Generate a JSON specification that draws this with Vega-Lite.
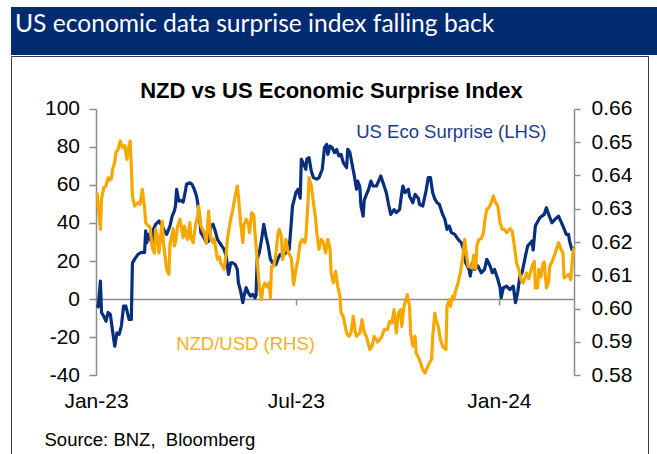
{
  "$schema": "https://vega.github.io/schema/vega-lite/v6.json",
  "background": "white",
  "padding": {"left": 10, "top": 7, "right": 0, "bottom": 0},
  "spacing": 0,
  "config": {
    "font": "Liberation Sans",
    "view": {"stroke": null},
    "axis": {"grid": false, "labelFont": "Liberation Sans", "titleFont": "Liberation Sans", "labelColor": "#000000"}
  },
  "datasets": {
    "eco": [
      {"date": "2023-01-02", "eco": -2.8}, {"date": "2023-01-03", "eco": -4}, {"date": "2023-01-05", "eco": 9.5}, {"date": "2023-01-06", "eco": -7},
      {"date": "2023-01-08", "eco": -9}, {"date": "2023-01-10", "eco": -11.6}, {"date": "2023-01-12", "eco": -7}, {"date": "2023-01-14", "eco": -8},
      {"date": "2023-01-17", "eco": -21}, {"date": "2023-01-18", "eco": -24.7}, {"date": "2023-01-20", "eco": -17.7}, {"date": "2023-01-22", "eco": -18.5},
      {"date": "2023-01-24", "eco": -14}, {"date": "2023-01-26", "eco": -3.7}, {"date": "2023-01-28", "eco": -3.7}, {"date": "2023-01-31", "eco": -10.7},
      {"date": "2023-02-02", "eco": -10.7}, {"date": "2023-02-03", "eco": 19}, {"date": "2023-02-05", "eco": 21}, {"date": "2023-02-08", "eco": 23.5},
      {"date": "2023-02-11", "eco": 24.5}, {"date": "2023-02-14", "eco": 24.5}, {"date": "2023-02-15", "eco": 35.8}, {"date": "2023-02-16", "eco": 29.6},
      {"date": "2023-02-17", "eco": 34}, {"date": "2023-02-19", "eco": 31.4}, {"date": "2023-02-21", "eco": 29.6}, {"date": "2023-02-22", "eco": 36.6},
      {"date": "2023-02-24", "eco": 39.3}, {"date": "2023-02-27", "eco": 41}, {"date": "2023-03-02", "eco": 38.4}, {"date": "2023-03-04", "eco": 35.8},
      {"date": "2023-03-06", "eco": 34}, {"date": "2023-03-09", "eco": 38.4}, {"date": "2023-03-11", "eco": 43.6}, {"date": "2023-03-13", "eco": 46.3},
      {"date": "2023-03-14", "eco": 48.9}, {"date": "2023-03-15", "eco": 57.7}, {"date": "2023-03-17", "eco": 51.5}, {"date": "2023-03-18", "eco": 52},
      {"date": "2023-03-21", "eco": 51}, {"date": "2023-03-23", "eco": 56.8}, {"date": "2023-03-24", "eco": 60.3}, {"date": "2023-03-27", "eco": 61.1},
      {"date": "2023-03-29", "eco": 60.3}, {"date": "2023-03-31", "eco": 57.7}, {"date": "2023-04-02", "eco": 54.2}, {"date": "2023-04-03", "eco": 51},
      {"date": "2023-04-05", "eco": 41.9}, {"date": "2023-04-06", "eco": 34.9}, {"date": "2023-04-09", "eco": 32.2}, {"date": "2023-04-11", "eco": 29.6},
      {"date": "2023-04-13", "eco": 30.5}, {"date": "2023-04-15", "eco": 38.4}, {"date": "2023-04-17", "eco": 39.3}, {"date": "2023-04-19", "eco": 35.8},
      {"date": "2023-04-21", "eco": 31.4}, {"date": "2023-04-23", "eco": 29.6}, {"date": "2023-04-25", "eco": 27.9}, {"date": "2023-04-27", "eco": 26.1},
      {"date": "2023-04-29", "eco": 22.6}, {"date": "2023-05-01", "eco": 13}, {"date": "2023-05-03", "eco": 19}, {"date": "2023-05-05", "eco": 19},
      {"date": "2023-05-07", "eco": 18.2}, {"date": "2023-05-09", "eco": 15.6}, {"date": "2023-05-10", "eco": 8.6}, {"date": "2023-05-12", "eco": 4.2},
      {"date": "2023-05-14", "eco": -1.9}, {"date": "2023-05-15", "eco": 1.5}, {"date": "2023-05-17", "eco": 6}, {"date": "2023-05-19", "eco": 3.3},
      {"date": "2023-05-21", "eco": 1.6}, {"date": "2023-05-23", "eco": 2.5}, {"date": "2023-05-25", "eco": 0.7}, {"date": "2023-05-26", "eco": 2},
      {"date": "2023-05-27", "eco": 21}, {"date": "2023-05-29", "eco": 24.5}, {"date": "2023-05-31", "eco": 31.4}, {"date": "2023-06-02", "eco": 39.3},
      {"date": "2023-06-04", "eco": 33}, {"date": "2023-06-06", "eco": 27.9}, {"date": "2023-06-08", "eco": 20.9}, {"date": "2023-06-10", "eco": 19},
      {"date": "2023-06-13", "eco": 18.2}, {"date": "2023-06-15", "eco": 21.5}, {"date": "2023-06-17", "eco": 23.5}, {"date": "2023-06-19", "eco": 22.6},
      {"date": "2023-06-22", "eco": 24.5}, {"date": "2023-06-24", "eco": 29.6}, {"date": "2023-06-25", "eco": 26}, {"date": "2023-06-27", "eco": 41},
      {"date": "2023-06-28", "eco": 48.9}, {"date": "2023-06-30", "eco": 53.3}, {"date": "2023-07-01", "eco": 55.9}, {"date": "2023-07-03", "eco": 57.7},
      {"date": "2023-07-05", "eco": 53}, {"date": "2023-07-06", "eco": 73.5}, {"date": "2023-07-08", "eco": 71}, {"date": "2023-07-10", "eco": 68.2},
      {"date": "2023-07-11", "eco": 73.5}, {"date": "2023-07-13", "eco": 74.3}, {"date": "2023-07-15", "eco": 67.3}, {"date": "2023-07-17", "eco": 63.8},
      {"date": "2023-07-20", "eco": 63}, {"date": "2023-07-22", "eco": 63.8}, {"date": "2023-07-25", "eco": 68.2}, {"date": "2023-07-27", "eco": 79.5},
      {"date": "2023-07-29", "eco": 81.3}, {"date": "2023-07-30", "eco": 76}, {"date": "2023-08-01", "eco": 80.4}, {"date": "2023-08-03", "eco": 79.5},
      {"date": "2023-08-05", "eco": 76.9}, {"date": "2023-08-07", "eco": 78.5}, {"date": "2023-08-09", "eco": 75.2}, {"date": "2023-08-11", "eco": 76},
      {"date": "2023-08-13", "eco": 71.7}, {"date": "2023-08-16", "eco": 69}, {"date": "2023-08-17", "eco": 78.7}, {"date": "2023-08-19", "eco": 77},
      {"date": "2023-08-21", "eco": 70.8}, {"date": "2023-08-23", "eco": 64.7}, {"date": "2023-08-25", "eco": 57.7}, {"date": "2023-08-26", "eco": 62},
      {"date": "2023-08-28", "eco": 59}, {"date": "2023-08-29", "eco": 48.9}, {"date": "2023-08-31", "eco": 43.6}, {"date": "2023-09-01", "eco": 52},
      {"date": "2023-09-03", "eco": 55}, {"date": "2023-09-05", "eco": 57.7}, {"date": "2023-09-07", "eco": 62}, {"date": "2023-09-09", "eco": 59.4},
      {"date": "2023-09-12", "eco": 59.4}, {"date": "2023-09-14", "eco": 62}, {"date": "2023-09-16", "eco": 64.7}, {"date": "2023-09-19", "eco": 59.4},
      {"date": "2023-09-21", "eco": 55.9}, {"date": "2023-09-23", "eco": 49.8}, {"date": "2023-09-25", "eco": 44.5}, {"date": "2023-09-28", "eco": 47},
      {"date": "2023-09-30", "eco": 45.4}, {"date": "2023-10-03", "eco": 47}, {"date": "2023-10-05", "eco": 55.9}, {"date": "2023-10-06", "eco": 59.4},
      {"date": "2023-10-08", "eco": 55.9}, {"date": "2023-10-11", "eco": 57.7}, {"date": "2023-10-12", "eco": 54}, {"date": "2023-10-15", "eco": 50.6},
      {"date": "2023-10-17", "eco": 55}, {"date": "2023-10-20", "eco": 53}, {"date": "2023-10-21", "eco": 49.8}, {"date": "2023-10-24", "eco": 48.9},
      {"date": "2023-10-27", "eco": 57}, {"date": "2023-10-29", "eco": 63.8}, {"date": "2023-10-31", "eco": 63.8}, {"date": "2023-11-02", "eco": 55.9},
      {"date": "2023-11-04", "eco": 52.5}, {"date": "2023-11-06", "eco": 50.6}, {"date": "2023-11-08", "eco": 49.8}, {"date": "2023-11-11", "eco": 44.5},
      {"date": "2023-11-13", "eco": 42}, {"date": "2023-11-15", "eco": 36.6}, {"date": "2023-11-17", "eco": 38.4}, {"date": "2023-11-19", "eco": 34.9},
      {"date": "2023-11-22", "eco": 34}, {"date": "2023-11-25", "eco": 31.4}, {"date": "2023-11-28", "eco": 29.6}, {"date": "2023-11-30", "eco": 26},
      {"date": "2023-12-02", "eco": 19}, {"date": "2023-12-05", "eco": 15.6}, {"date": "2023-12-06", "eco": 12.1}, {"date": "2023-12-08", "eco": 19},
      {"date": "2023-12-10", "eco": 15.6}, {"date": "2023-12-13", "eco": 17.4}, {"date": "2023-12-16", "eco": 13.8}, {"date": "2023-12-19", "eco": 15.6},
      {"date": "2023-12-21", "eco": 20.9}, {"date": "2023-12-24", "eco": 17.4}, {"date": "2023-12-26", "eco": 13.8}, {"date": "2023-12-28", "eco": 15.6},
      {"date": "2023-12-31", "eco": 10.4}, {"date": "2024-01-02", "eco": 6}, {"date": "2024-01-03", "eco": 0.7}, {"date": "2024-01-05", "eco": 6},
      {"date": "2024-01-08", "eco": 6.8}, {"date": "2024-01-11", "eco": 5}, {"date": "2024-01-14", "eco": 6.8}, {"date": "2024-01-16", "eco": -1.9},
      {"date": "2024-01-18", "eco": 3.5}, {"date": "2024-01-20", "eco": 12.1}, {"date": "2024-01-22", "eco": 14}, {"date": "2024-01-25", "eco": 22.6},
      {"date": "2024-01-27", "eco": 27.9}, {"date": "2024-01-31", "eco": 30.5}, {"date": "2024-02-01", "eco": 25.8}, {"date": "2024-02-03", "eco": 38.4},
      {"date": "2024-02-07", "eco": 42.7}, {"date": "2024-02-11", "eco": 44.5}, {"date": "2024-02-13", "eco": 48}, {"date": "2024-02-15", "eco": 44.5},
      {"date": "2024-02-18", "eco": 40.1}, {"date": "2024-02-21", "eco": 42}, {"date": "2024-02-24", "eco": 43.6}, {"date": "2024-02-26", "eco": 41},
      {"date": "2024-02-28", "eco": 38.4}, {"date": "2024-03-02", "eco": 34}, {"date": "2024-03-04", "eco": 34}, {"date": "2024-03-05", "eco": 30.5},
      {"date": "2024-03-07", "eco": 26.1}, {"date": "2024-03-09", "eco": 27}
    ],
    "nzd": [
      {"date": "2023-01-02", "nzd": 0.6348}, {"date": "2023-01-03", "nzd": 0.6308}, {"date": "2023-01-05", "nzd": 0.6238}, {"date": "2023-01-06", "nzd": 0.6328},
      {"date": "2023-01-08", "nzd": 0.6363}, {"date": "2023-01-10", "nzd": 0.6368}, {"date": "2023-01-12", "nzd": 0.6393}, {"date": "2023-01-13", "nzd": 0.6385},
      {"date": "2023-01-15", "nzd": 0.639}, {"date": "2023-01-16", "nzd": 0.6418}, {"date": "2023-01-18", "nzd": 0.644}, {"date": "2023-01-19", "nzd": 0.6468},
      {"date": "2023-01-21", "nzd": 0.6478}, {"date": "2023-01-23", "nzd": 0.6503}, {"date": "2023-01-25", "nzd": 0.6483}, {"date": "2023-01-27", "nzd": 0.649},
      {"date": "2023-01-29", "nzd": 0.6448}, {"date": "2023-01-31", "nzd": 0.649}, {"date": "2023-02-01", "nzd": 0.6503}, {"date": "2023-02-02", "nzd": 0.6423},
      {"date": "2023-02-03", "nzd": 0.6338}, {"date": "2023-02-05", "nzd": 0.6308}, {"date": "2023-02-08", "nzd": 0.6318}, {"date": "2023-02-10", "nzd": 0.6313},
      {"date": "2023-02-12", "nzd": 0.6358}, {"date": "2023-02-14", "nzd": 0.6303}, {"date": "2023-02-15", "nzd": 0.6258}, {"date": "2023-02-17", "nzd": 0.625},
      {"date": "2023-02-19", "nzd": 0.6243}, {"date": "2023-02-21", "nzd": 0.6182}, {"date": "2023-02-23", "nzd": 0.6167}, {"date": "2023-02-24", "nzd": 0.6238},
      {"date": "2023-02-26", "nzd": 0.621}, {"date": "2023-02-27", "nzd": 0.6167}, {"date": "2023-03-02", "nzd": 0.6263}, {"date": "2023-03-03", "nzd": 0.62},
      {"date": "2023-03-06", "nzd": 0.6118}, {"date": "2023-03-08", "nzd": 0.6103}, {"date": "2023-03-09", "nzd": 0.6193}, {"date": "2023-03-12", "nzd": 0.624},
      {"date": "2023-03-13", "nzd": 0.6188}, {"date": "2023-03-14", "nzd": 0.62}, {"date": "2023-03-16", "nzd": 0.6248}, {"date": "2023-03-18", "nzd": 0.6268},
      {"date": "2023-03-19", "nzd": 0.625}, {"date": "2023-03-21", "nzd": 0.6213}, {"date": "2023-03-22", "nzd": 0.6248}, {"date": "2023-03-25", "nzd": 0.6208},
      {"date": "2023-03-27", "nzd": 0.6258}, {"date": "2023-03-28", "nzd": 0.6213}, {"date": "2023-03-30", "nzd": 0.6198}, {"date": "2023-04-01", "nzd": 0.6248},
      {"date": "2023-04-03", "nzd": 0.6278}, {"date": "2023-04-04", "nzd": 0.6308}, {"date": "2023-04-06", "nzd": 0.6248}, {"date": "2023-04-09", "nzd": 0.6228},
      {"date": "2023-04-11", "nzd": 0.6198}, {"date": "2023-04-13", "nzd": 0.6293}, {"date": "2023-04-15", "nzd": 0.621}, {"date": "2023-04-17", "nzd": 0.6198},
      {"date": "2023-04-18", "nzd": 0.621}, {"date": "2023-04-21", "nzd": 0.6148}, {"date": "2023-04-23", "nzd": 0.6155}, {"date": "2023-04-24", "nzd": 0.6137},
      {"date": "2023-04-27", "nzd": 0.6118}, {"date": "2023-04-29", "nzd": 0.6165}, {"date": "2023-04-30", "nzd": 0.6208}, {"date": "2023-05-03", "nzd": 0.6268},
      {"date": "2023-05-05", "nzd": 0.6298}, {"date": "2023-05-07", "nzd": 0.6338}, {"date": "2023-05-09", "nzd": 0.6368}, {"date": "2023-05-10", "nzd": 0.6338},
      {"date": "2023-05-12", "nzd": 0.6258}, {"date": "2023-05-14", "nzd": 0.6198}, {"date": "2023-05-15", "nzd": 0.625}, {"date": "2023-05-17", "nzd": 0.6268},
      {"date": "2023-05-19", "nzd": 0.6255}, {"date": "2023-05-20", "nzd": 0.6228}, {"date": "2023-05-22", "nzd": 0.6288}, {"date": "2023-05-24", "nzd": 0.628},
      {"date": "2023-05-25", "nzd": 0.6228}, {"date": "2023-05-27", "nzd": 0.6148}, {"date": "2023-05-29", "nzd": 0.6062}, {"date": "2023-05-31", "nzd": 0.6027},
      {"date": "2023-06-01", "nzd": 0.606}, {"date": "2023-06-03", "nzd": 0.6077}, {"date": "2023-06-05", "nzd": 0.6065}, {"date": "2023-06-07", "nzd": 0.6077},
      {"date": "2023-06-08", "nzd": 0.6032}, {"date": "2023-06-09", "nzd": 0.6127}, {"date": "2023-06-11", "nzd": 0.6127}, {"date": "2023-06-13", "nzd": 0.6167},
      {"date": "2023-06-15", "nzd": 0.6228}, {"date": "2023-06-16", "nzd": 0.6238}, {"date": "2023-06-18", "nzd": 0.6215}, {"date": "2023-06-19", "nzd": 0.6148},
      {"date": "2023-06-21", "nzd": 0.618}, {"date": "2023-06-22", "nzd": 0.6208}, {"date": "2023-06-24", "nzd": 0.617}, {"date": "2023-06-26", "nzd": 0.6157},
      {"date": "2023-06-27", "nzd": 0.615}, {"date": "2023-06-29", "nzd": 0.6072}, {"date": "2023-07-01", "nzd": 0.6115}, {"date": "2023-07-03", "nzd": 0.6148},
      {"date": "2023-07-05", "nzd": 0.6198}, {"date": "2023-07-07", "nzd": 0.6208}, {"date": "2023-07-09", "nzd": 0.6198}, {"date": "2023-07-10", "nzd": 0.6208},
      {"date": "2023-07-12", "nzd": 0.6318}, {"date": "2023-07-13", "nzd": 0.6393}, {"date": "2023-07-15", "nzd": 0.6368}, {"date": "2023-07-17", "nzd": 0.6318},
      {"date": "2023-07-19", "nzd": 0.6268}, {"date": "2023-07-20", "nzd": 0.6228}, {"date": "2023-07-22", "nzd": 0.6178}, {"date": "2023-07-24", "nzd": 0.6208},
      {"date": "2023-07-26", "nzd": 0.6198}, {"date": "2023-07-28", "nzd": 0.6167}, {"date": "2023-07-30", "nzd": 0.6208}, {"date": "2023-08-01", "nzd": 0.618},
      {"date": "2023-08-02", "nzd": 0.6107}, {"date": "2023-08-04", "nzd": 0.6077}, {"date": "2023-08-06", "nzd": 0.6112}, {"date": "2023-08-08", "nzd": 0.6067},
      {"date": "2023-08-10", "nzd": 0.6037}, {"date": "2023-08-11", "nzd": 0.5987}, {"date": "2023-08-13", "nzd": 0.5977}, {"date": "2023-08-16", "nzd": 0.5927},
      {"date": "2023-08-18", "nzd": 0.5917}, {"date": "2023-08-20", "nzd": 0.5927}, {"date": "2023-08-22", "nzd": 0.5977}, {"date": "2023-08-24", "nzd": 0.5927},
      {"date": "2023-08-25", "nzd": 0.5917}, {"date": "2023-08-28", "nzd": 0.5927}, {"date": "2023-08-30", "nzd": 0.5967}, {"date": "2023-09-01", "nzd": 0.5927},
      {"date": "2023-09-03", "nzd": 0.5917}, {"date": "2023-09-06", "nzd": 0.5877}, {"date": "2023-09-08", "nzd": 0.5887}, {"date": "2023-09-10", "nzd": 0.5917},
      {"date": "2023-09-13", "nzd": 0.59}, {"date": "2023-09-15", "nzd": 0.5907}, {"date": "2023-09-17", "nzd": 0.5917}, {"date": "2023-09-19", "nzd": 0.5937},
      {"date": "2023-09-22", "nzd": 0.5937}, {"date": "2023-09-24", "nzd": 0.5962}, {"date": "2023-09-26", "nzd": 0.5957}, {"date": "2023-09-28", "nzd": 0.5997},
      {"date": "2023-09-30", "nzd": 0.5927}, {"date": "2023-10-02", "nzd": 0.5987}, {"date": "2023-10-04", "nzd": 0.5997}, {"date": "2023-10-05", "nzd": 0.5947},
      {"date": "2023-10-07", "nzd": 0.6007}, {"date": "2023-10-10", "nzd": 0.6042}, {"date": "2023-10-12", "nzd": 0.6007}, {"date": "2023-10-13", "nzd": 0.5927},
      {"date": "2023-10-15", "nzd": 0.5887}, {"date": "2023-10-17", "nzd": 0.5917}, {"date": "2023-10-18", "nzd": 0.5867}, {"date": "2023-10-21", "nzd": 0.5847},
      {"date": "2023-10-22", "nzd": 0.5837}, {"date": "2023-10-24", "nzd": 0.5817}, {"date": "2023-10-26", "nzd": 0.5807}, {"date": "2023-10-28", "nzd": 0.5822},
      {"date": "2023-10-30", "nzd": 0.5837}, {"date": "2023-11-01", "nzd": 0.5847}, {"date": "2023-11-02", "nzd": 0.5917}, {"date": "2023-11-04", "nzd": 0.5987},
      {"date": "2023-11-05", "nzd": 0.5967}, {"date": "2023-11-07", "nzd": 0.5947}, {"date": "2023-11-09", "nzd": 0.5907}, {"date": "2023-11-11", "nzd": 0.5887},
      {"date": "2023-11-14", "nzd": 0.5877}, {"date": "2023-11-15", "nzd": 0.6007}, {"date": "2023-11-17", "nzd": 0.6027}, {"date": "2023-11-18", "nzd": 0.6007},
      {"date": "2023-11-20", "nzd": 0.6037}, {"date": "2023-11-21", "nzd": 0.6027}, {"date": "2023-11-23", "nzd": 0.6057}, {"date": "2023-11-25", "nzd": 0.6077},
      {"date": "2023-11-27", "nzd": 0.6107}, {"date": "2023-11-29", "nzd": 0.6148}, {"date": "2023-12-01", "nzd": 0.6208}, {"date": "2023-12-02", "nzd": 0.6178},
      {"date": "2023-12-04", "nzd": 0.6127}, {"date": "2023-12-06", "nzd": 0.6125}, {"date": "2023-12-08", "nzd": 0.6122}, {"date": "2023-12-09", "nzd": 0.616},
      {"date": "2023-12-11", "nzd": 0.6118}, {"date": "2023-12-12", "nzd": 0.619}, {"date": "2023-12-14", "nzd": 0.6208}, {"date": "2023-12-16", "nzd": 0.621},
      {"date": "2023-12-18", "nzd": 0.6228}, {"date": "2023-12-19", "nzd": 0.626}, {"date": "2023-12-21", "nzd": 0.6298}, {"date": "2023-12-23", "nzd": 0.6303},
      {"date": "2023-12-25", "nzd": 0.6318}, {"date": "2023-12-27", "nzd": 0.6338}, {"date": "2023-12-29", "nzd": 0.6318}, {"date": "2023-12-31", "nzd": 0.6308},
      {"date": "2024-01-02", "nzd": 0.6258}, {"date": "2024-01-04", "nzd": 0.6238}, {"date": "2024-01-06", "nzd": 0.6238}, {"date": "2024-01-08", "nzd": 0.6228},
      {"date": "2024-01-11", "nzd": 0.624}, {"date": "2024-01-13", "nzd": 0.6233}, {"date": "2024-01-15", "nzd": 0.6188}, {"date": "2024-01-17", "nzd": 0.6137},
      {"date": "2024-01-19", "nzd": 0.6118}, {"date": "2024-01-21", "nzd": 0.6087}, {"date": "2024-01-23", "nzd": 0.6077}, {"date": "2024-01-26", "nzd": 0.6107},
      {"date": "2024-01-28", "nzd": 0.609}, {"date": "2024-01-31", "nzd": 0.6127}, {"date": "2024-02-02", "nzd": 0.6142}, {"date": "2024-02-03", "nzd": 0.6062},
      {"date": "2024-02-05", "nzd": 0.6062}, {"date": "2024-02-06", "nzd": 0.6118}, {"date": "2024-02-08", "nzd": 0.6095}, {"date": "2024-02-10", "nzd": 0.6137},
      {"date": "2024-02-11", "nzd": 0.614}, {"date": "2024-02-13", "nzd": 0.6062}, {"date": "2024-02-15", "nzd": 0.608}, {"date": "2024-02-16", "nzd": 0.6127},
      {"date": "2024-02-18", "nzd": 0.614}, {"date": "2024-02-21", "nzd": 0.6167}, {"date": "2024-02-24", "nzd": 0.6198}, {"date": "2024-02-26", "nzd": 0.618},
      {"date": "2024-02-28", "nzd": 0.6167}, {"date": "2024-02-29", "nzd": 0.6092}, {"date": "2024-03-02", "nzd": 0.6097}, {"date": "2024-03-04", "nzd": 0.6103},
      {"date": "2024-03-06", "nzd": 0.6087}, {"date": "2024-03-08", "nzd": 0.6167}, {"date": "2024-03-09", "nzd": 0.6183}
    ]
  },
  "vconcat": [
    {
      "width": 647,
      "height": 48,
      "view": {"fill": "#002b70", "stroke": null},
      "title": {
        "text": "US economic data surprise index falling back",
        "orient": "top", "frame": "group", "anchor": "start",
        "offset": -49.5, "baseline": "alphabetic", "dx": 4,
        "font": "Lato", "fontSize": 24.6, "fontWeight": "normal", "color": "#ffffff"
      },
      "data": {"values": [{"v": 0}]},
      "mark": {"type": "point", "opacity": 0},
      "encoding": {}
    },
    {
      "width": 637,
      "height": 398,
      "view": {"stroke": "#3a3a3a", "strokeWidth": 1, "strokeDash": [1035, 637, 398, 0]},
      "title": {
        "text": "NZD vs US Economic Surprise Index",
        "orient": "top", "frame": "group", "anchor": "middle",
        "offset": -63.7, "baseline": "alphabetic", "dx": 2,
        "font": "Liberation Sans", "fontSize": 22, "fontWeight": "bold", "color": "#000000"
      },
      "layer": [
        {
          "data": {"name": "eco"},
          "mark": {"type": "line", "strokeWidth": 3.2, "strokeJoin": "round"},
          "encoding": {
            "x": {
              "field": "date", "type": "temporal",
              "scale": {"domain": [{"year": 2023, "month": 1, "date": 1, "utc": true}, {"year": 2024, "month": 3, "date": 9, "utc": true}], "range": [85, 563]},
              "axis": {
                "orient": "bottom", "offset": -155, "title": null, "labels": false,
                "values": [{"year": 2023, "month": 7, "date": 1, "utc": true}, {"year": 2024, "month": 1, "date": 1, "utc": true}],
                "domainColor": "#8c8c8c", "domainWidth": 1.5, "tickColor": "#8c8c8c", "tickWidth": 1.5, "tickSize": 6
              }
            },
            "y": {
              "field": "eco", "type": "quantitative",
              "scale": {"domain": [-40, 100], "range": [319.3, 52.7], "nice": false, "zero": false},
              "axis": {
                "orient": "left", "offset": -85, "title": null,
                "values": [-40, -20, 0, 20, 40, 60, 80, 100],
                "labelExpr": "datum.value < 0 ? '-' + abs(datum.value) : '' + datum.value",
                "domainColor": "#8c8c8c", "domainWidth": 1.5, "tickColor": "#8c8c8c", "tickWidth": 1.5, "tickSize": 7,
                "labelFontSize": 21, "labelPadding": 9.5
              }
            },
            "color": {
              "datum": "US Eco Surprise (LHS)",
              "scale": {"range": ["#072f7d"]},
              "legend": {
                "orient": "none", "legendX": 326.7, "legendY": 67, "title": null,
                "symbolSize": 0, "symbolOpacity": 0, "symbolStrokeWidth": 0, "labelOffset": 0, "padding": 0,
                "labelFont": "Liberation Sans", "labelFontSize": 18.5, "labelColor": "#1b3b8b", "labelLimit": 400
              }
            }
          }
        },
        {
          "data": {"name": "nzd"},
          "mark": {"type": "line", "strokeWidth": 3.2, "strokeJoin": "round"},
          "encoding": {
            "x": {
              "field": "date", "type": "temporal",
              "axis": {
                "orient": "bottom", "offset": -79, "domain": false, "ticks": false, "tickSize": 0,
                "values": [{"year": 2023, "month": 1, "date": 1, "utc": true}, {"year": 2023, "month": 7, "date": 1, "utc": true}, {"year": 2024, "month": 1, "date": 1, "utc": true}],
                "labelExpr": "utcFormat(datum.value, '%b-%y')",
                "labelFontSize": 21, "labelBaseline": "alphabetic", "labelPadding": 32.5,
                "labelFlush": false, "labelOverlap": false, "labelBound": false,
                "title": "Source: BNZ,\u00a0 Bloomberg", "titleX": 33, "titleY": 70.7, "titleAlign": "left", "titleBaseline": "alphabetic",
                "titleFontSize": 18.5, "titleFontWeight": "normal", "titleColor": "#000000"
              }
            },
            "y": {
              "field": "nzd", "type": "quantitative",
              "scale": {"domain": [0.58, 0.66], "range": [319.3, 52.7], "nice": false, "zero": false},
              "axis": {
                "orient": "right", "offset": -74, "title": null, "format": ".2f",
                "values": [0.58, 0.59, 0.6, 0.61, 0.62, 0.63, 0.64, 0.65, 0.66],
                "domainColor": "#8c8c8c", "domainWidth": 1.5, "tickColor": "#8c8c8c", "tickWidth": 1.5, "tickSize": 6,
                "labelFontSize": 21, "labelPadding": 11
              }
            },
            "color": {
              "datum": "NZD/USD (RHS)",
              "scale": {"range": ["#f6a800"]},
              "legend": {
                "orient": "none", "legendX": 146.7, "legendY": 279, "title": null,
                "symbolSize": 0, "symbolOpacity": 0, "symbolStrokeWidth": 0, "labelOffset": 0, "padding": 0,
                "labelFont": "Liberation Sans", "labelFontSize": 18.5, "labelColor": "#f5b01e", "labelLimit": 400
              }
            }
          }
        }
      ],
      "resolve": {"scale": {"y": "independent", "color": "independent"}, "axis": {"x": "independent"}}
    }
  ]
}
